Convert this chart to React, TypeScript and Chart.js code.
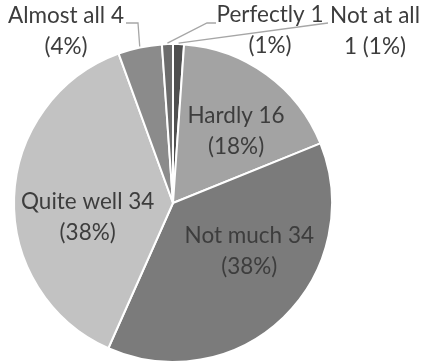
import React, { useEffect, useRef } from "react";
import { Chart, registerables } from "chart.js";

Chart.register(...registerables);

const categories = ["Not at all", "Hardly", "Not much", "Quite well", "Almost all", "Perfectly"];
const counts = [1, 16, 34, 34, 4, 1];
const percents = ["1%", "18%", "38%", "38%", "4%", "1%"];
const sliceColors = ["#4f4f4f", "#a3a3a3", "#7b7b7b", "#c2c2c2", "#8b8b8b", "#6c6c6c"];

// Label placement per slice: inside labels sit at a radius fraction along the
// slice's mid-angle plus a nudge; outside labels sit at a fixed spot with a leader line.
type Placement =
  | { kind: "inside"; frac: number; dx: number; dy: number }
  | { kind: "outside"; lines: string[]; tx: number; ty: number; path: [number, number][] };

const placements: Placement[] = [
  { kind: "outside", lines: ["Not at all", "1 (1%)"], tx: 375, ty: 16, path: [[328, 23]] },
  { kind: "inside", frac: 0.6, dx: 7, dy: 5 },
  { kind: "inside", frac: 0.6, dx: 10, dy: -20 },
  { kind: "inside", frac: 0.6, dx: 10, dy: 18 },
  { kind: "outside", lines: ["Almost all 4", "(4%)"], tx: 66, ty: 16, path: [[126, 23], [138, 23]] },
  { kind: "outside", lines: ["Perfectly 1", "(1%)"], tx: 270, ty: 15, path: [[216, 23], [207, 23]] },
];

const FONT = "22.5px Lato, 'Open Sans', sans-serif";
const LINE_GAP = 31;

const labelPlugin = {
  id: "sliceLabels",
  afterDatasetsDraw(chart: any) {
    const { ctx } = chart;
    const meta = chart.getDatasetMeta(0);
    ctx.save();
    ctx.font = FONT;
    ctx.fillStyle = "#3d3d3d";
    ctx.textAlign = "center";
    ctx.textBaseline = "middle";
    meta.data.forEach((arc: any, i: number) => {
      const p = arc.getProps(["x", "y", "startAngle", "endAngle", "outerRadius"], true);
      const mid = (p.startAngle + p.endAngle) / 2;
      const pl = placements[i];
      if (pl.kind === "inside") {
        const cx = p.x + Math.cos(mid) * p.outerRadius * pl.frac + pl.dx;
        const cy = p.y + Math.sin(mid) * p.outerRadius * pl.frac + pl.dy;
        ctx.fillText(`${categories[i]} ${counts[i]}`, cx, cy - LINE_GAP / 2);
        ctx.fillText(`(${percents[i]})`, cx, cy + LINE_GAP / 2);
      } else {
        const ex = p.x + Math.cos(mid) * (p.outerRadius + 1);
        const ey = p.y + Math.sin(mid) * (p.outerRadius + 1);
        ctx.save();
        ctx.strokeStyle = "#a6a6a6";
        ctx.lineWidth = 1.3;
        ctx.beginPath();
        ctx.moveTo(pl.path[0][0], pl.path[0][1]);
        for (let k = 1; k < pl.path.length; k++) ctx.lineTo(pl.path[k][0], pl.path[k][1]);
        ctx.lineTo(ex, ey);
        ctx.stroke();
        ctx.restore();
        pl.lines.forEach((t, k) => ctx.fillText(t, pl.tx, pl.ty + k * LINE_GAP));
      }
    });
    ctx.restore();
  },
};

export default function App() {
  const canvasRef = useRef<HTMLCanvasElement | null>(null);

  useEffect(() => {
    if (!canvasRef.current) return;
    const chart = new Chart(canvasRef.current, {
      type: "pie",
      data: {
        labels: categories,
        datasets: [
          {
            data: counts,
            backgroundColor: sliceColors,
            borderColor: "#ffffff",
            borderWidth: 2,
            hoverOffset: 0,
          },
        ],
      },
      options: {
        responsive: false,
        animation: false,
        layout: { padding: { left: 13, right: 90, top: 43, bottom: 1 } },
        plugins: {
          legend: { display: false },
          tooltip: { enabled: false },
          title: { display: false },
        },
      },
      plugins: [labelPlugin],
    });
    return () => chart.destroy();
  }, []);

  return (
    <div style={{ position: "fixed", left: 0, top: 0, width: 423, height: 364, background: "#fff" }}>
      <canvas ref={canvasRef} width={423} height={364} />
    </div>
  );
}
